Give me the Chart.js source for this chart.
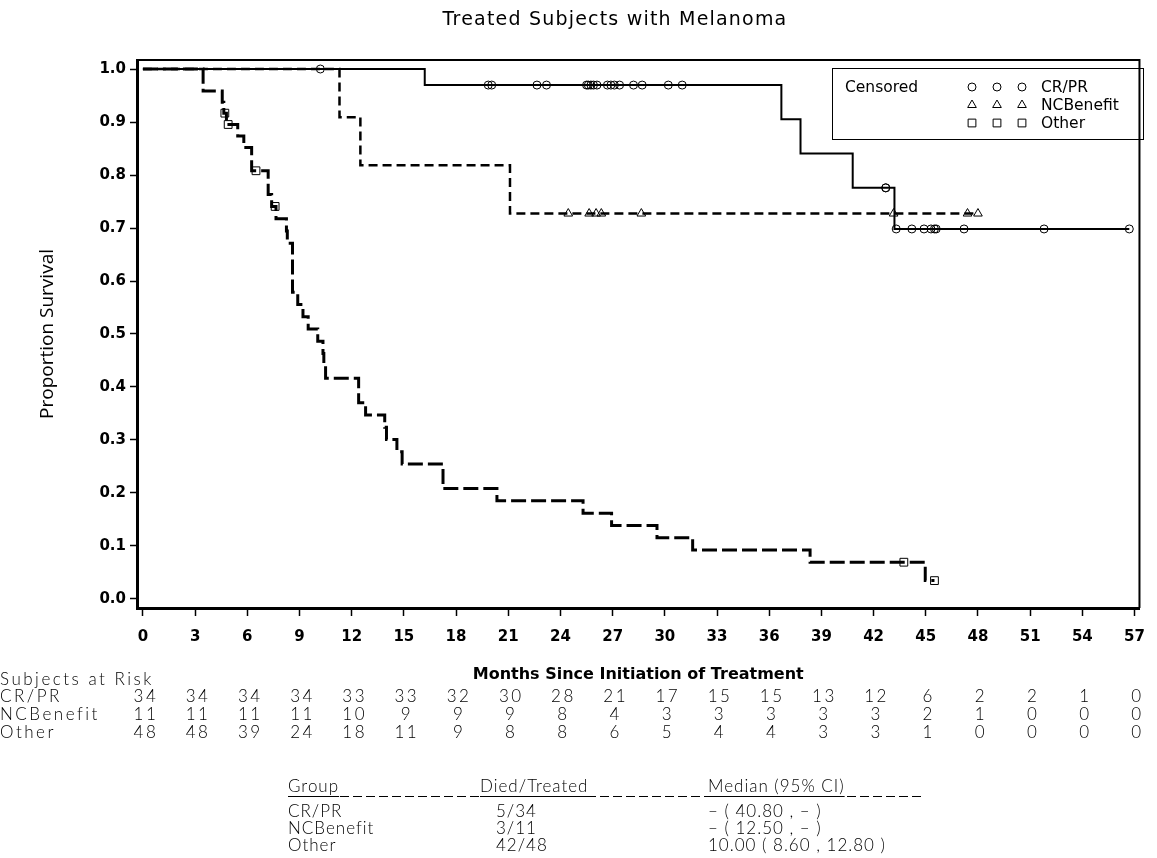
<!DOCTYPE html>
<html>
<head>
<meta charset="utf-8">
<title>Treated Subjects with Melanoma</title>
<script src="https://cdn.jsdelivr.net/npm/chart.js@4/dist/chart.umd.min.js"></script>
<style>
  html, body { margin: 0; padding: 0; background: #fff; }
  #wrap { width: 1157px; height: 858px; }
</style>
</head>
<body>
<div id="wrap"><canvas id="kmChart" width="1157" height="858"></canvas></div>
<script>
// axis ticks
const monthTicks = [0, 3, 6, 9, 12, 15, 18, 21, 24, 27, 30, 33, 36, 39, 42, 45, 48, 51, 54, 57];
const survTicks = [0, 0.1, 0.2, 0.3, 0.4, 0.5, 0.6, 0.7, 0.8, 0.9, 1.0];

// CR/PR: death times, survival after each death, censored times
const crprTimes = [16.2, 36.7, 37.8, 40.8, 43.2];
const crprSurv = [0.9697, 0.9051, 0.8404, 0.7758, 0.6982];
const crprCensor = [10.2, 19.85, 20.05, 22.65, 23.2, 25.5, 25.6, 25.75, 25.9, 26.1, 26.7, 26.9, 27.1, 27.4,
  28.2, 28.7, 30.2, 31.0, 42.7, 42.7, 43.3, 44.2, 44.9, 45.3, 45.5, 45.6, 47.2, 51.8, 56.7];

// NCBenefit
const ncbTimes = [11.3, 12.5, 21.1];
const ncbSurv = [0.9091, 0.8182, 0.7273];
const ncbCensor = [24.45, 25.65, 26.05, 26.35, 28.65, 43.15, 47.4, 48.0];

// Other
const otherTimes = [3.46, 4.56, 4.65, 4.8, 5.45, 5.8, 6.25, 7.2, 7.4, 7.65, 8.25, 8.3, 8.6, 8.9, 9.2, 9.5,
  10.05, 10.35, 10.4, 10.5, 12.4, 12.8, 13.9, 14.0, 14.6, 14.9, 17.25, 20.35, 25.3, 26.94, 29.55, 31.6, 38.35, 44.97];
const otherSurv = [0.9583, 0.9375, 0.9167, 0.8953, 0.8735, 0.8517, 0.8080, 0.7631, 0.7407, 0.7176, 0.6944, 0.6713,
  0.5787, 0.5556, 0.5324, 0.5093, 0.4861, 0.4630, 0.4398, 0.4167, 0.3704, 0.3472, 0.3241, 0.3009, 0.2778, 0.2546,
  0.2083, 0.1852, 0.1620, 0.1389, 0.1157, 0.0926, 0.0694, 0.0347];
const otherCensor = [4.71, 4.9, 6.5, 7.6, 43.74, 45.5];

// subjects at risk at each month tick
const groups = ['CR/PR', 'NCBenefit', 'Other'];
const riskCrpr = [34, 34, 34, 34, 33, 33, 32, 30, 28, 21, 17, 15, 15, 13, 12, 6, 2, 2, 1, 0];
const riskNcb = [11, 11, 11, 11, 10, 9, 9, 9, 8, 4, 3, 3, 3, 3, 3, 2, 1, 0, 0, 0];
const riskOther = [48, 48, 39, 24, 18, 11, 9, 8, 8, 6, 5, 4, 4, 3, 3, 1, 0, 0, 0, 0];

// summary table
const diedTreated = ['5/34', '3/11', '42/48'];
const medianCI = ['\u2013 ( 40.80 , \u2013 )', '\u2013 ( 12.50 , \u2013 )', '10.00 ( 8.60 , 12.80 )'];

const LIGHT = '300 17px Lato, "DejaVu Sans", sans-serif';

function kmPoints(times, surv, censor) {
    const pts = [{ x: 0, y: 1 }];
    times.forEach((t, i) => pts.push({ x: t, y: surv[i] }));
    pts.push({ x: Math.max(...censor, ...times), y: surv[surv.length - 1] });
    return pts;
}

function survAt(times, surv, t) {
    let s = 1;
    times.forEach((tt, i) => { if (tt <= t) s = surv[i]; });
    return s;
}

function censorPoints(times, surv, censor) {
    return censor.map(t => ({ x: t, y: survAt(times, surv, t) }));
}

const extrasPlugin = {
    id: 'kmExtras',
    afterDraw(chart) {
        const ctx = chart.ctx;
        const area = chart.chartArea;
        const xs = chart.scales.x;
        const helpers = Chart.helpers;
        ctx.save();
        ctx.fillStyle = '#000';
        ctx.strokeStyle = '#000';

        // top and right frame
        ctx.lineWidth = 2;
        ctx.beginPath();
        ctx.moveTo(area.left, area.top);
        ctx.lineTo(area.right, area.top);
        ctx.lineTo(area.right, area.bottom);
        ctx.stroke();

        // title
        ctx.font = '19px "DejaVu Sans", sans-serif';
        ctx.letterSpacing = '1.2px';
        ctx.textAlign = 'center';
        ctx.textBaseline = 'middle';
        ctx.fillText('Treated Subjects with Melanoma', 615, 20);
        ctx.letterSpacing = '0px';

        // censored legend box
        ctx.lineWidth = 1;
        ctx.strokeRect(832.5, 68.5, 311, 71);
        ctx.font = '15.5px "DejaVu Sans", sans-serif';
        ctx.textAlign = 'left';
        ctx.fillText('Censored', 845, 88);
        const styles = ['circle', 'triangle', 'rect'];
        const radii = [4, 5, 5.5];
        groups.forEach((g, i) => {
            const y = 87 + i * 18;
            [972, 997, 1022].forEach(x => {
                ctx.fillStyle = 'rgba(0,0,0,0)';
                helpers.drawPoint(ctx, { pointStyle: styles[i], radius: radii[i], rotation: 0, borderWidth: 1 }, x, y);
            });
            ctx.fillStyle = '#000';
            ctx.fillText(g, 1041, y + 1);
        });

        // subjects at risk table
        ctx.font = LIGHT;
        ctx.letterSpacing = '2.5px';
        ctx.textAlign = 'left';
        ctx.fillText('Subjects at Risk', 0, 680);
        const risk = [riskCrpr, riskNcb, riskOther];
        groups.forEach((g, i) => {
            const y = 697 + i * 18;
            ctx.textAlign = 'left';
            ctx.fillText(g, 0, y);
            ctx.textAlign = 'center';
            monthTicks.forEach((m, j) => {
                ctx.fillText(String(risk[i][j]), xs.getPixelForValue(m) + 3, y);
            });
        });

        // summary table
        ctx.letterSpacing = '1px';
        ctx.textAlign = 'left';
        const cols = [288, 480, 708];
        const heads = ['Group', 'Died/Treated', 'Median (95% CI)'];
        heads.forEach((h, i) => ctx.fillText(h, cols[i], 787));
        ctx.lineWidth = 1;
        heads.forEach((h, i) => {
            const w = ctx.measureText(h).width;
            ctx.beginPath();
            ctx.moveTo(cols[i], 796.5);
            ctx.lineTo(cols[i] + w, 796.5);
            ctx.stroke();
        });
        ctx.setLineDash([9, 4]);
        ctx.beginPath();
        ctx.moveTo(288, 796.5);
        ctx.lineTo(925, 796.5);
        ctx.stroke();
        ctx.setLineDash([]);
        groups.forEach((g, i) => {
            const y = 812 + i * 17;
            ctx.fillText(g, 288, y);
            ctx.fillText(diedTreated[i], 496, y);
            ctx.fillText(medianCI[i], 708, y);
        });
        ctx.letterSpacing = '0px';
        ctx.restore();
    }
};

const markerBase = {
    type: 'scatter',
    showLine: false,
    borderColor: '#000',
    backgroundColor: 'rgba(0,0,0,0)',
    pointBorderWidth: 1
};

new Chart(document.getElementById('kmChart'), {
    type: 'line',
    data: {
        datasets: [
            {
                label: 'CR/PR',
                data: kmPoints(crprTimes, crprSurv, crprCensor),
                stepped: true,
                borderColor: '#000',
                borderWidth: 2,
                pointRadius: 0
            },
            {
                label: 'NCBenefit',
                data: kmPoints(ncbTimes, ncbSurv, ncbCensor),
                stepped: true,
                borderColor: '#000',
                borderWidth: 2.5,
                borderDash: [9, 5],
                pointRadius: 0
            },
            {
                label: 'Other',
                data: kmPoints(otherTimes, otherSurv, otherCensor),
                stepped: true,
                borderColor: '#000',
                borderWidth: 3,
                borderDash: [15, 5],
                pointRadius: 0
            },
            Object.assign({}, markerBase, {
                label: 'CR/PR censored',
                data: censorPoints(crprTimes, crprSurv, crprCensor),
                pointStyle: 'circle',
                pointRadius: 4
            }),
            Object.assign({}, markerBase, {
                label: 'NCBenefit censored',
                data: censorPoints(ncbTimes, ncbSurv, ncbCensor),
                pointStyle: 'triangle',
                pointRadius: 5
            }),
            Object.assign({}, markerBase, {
                label: 'Other censored',
                data: censorPoints(otherTimes, otherSurv, otherCensor),
                pointStyle: 'rect',
                pointRadius: 5.5
            })
        ]
    },
    options: {
        responsive: false,
        animation: false,
        layout: { padding: { left: 0, right: 5, top: 60, bottom: 170 } },
        plugins: {
            legend: { display: false },
            tooltip: { enabled: false },
            title: { display: false }
        },
        scales: {
            x: {
                type: 'linear',
                min: -0.34,
                max: 57.284,
                afterBuildTicks: (scale) => { scale.ticks = monthTicks.map(v => ({ value: v })); },
                afterFit: (scale) => { scale.height = 80; },
                border: { display: true, color: '#000', width: 3 },
                grid: { drawOnChartArea: false, drawTicks: true, tickLength: 8, tickColor: '#000', tickWidth: 1.5 },
                ticks: {
                    color: '#000',
                    padding: 12,
                    maxRotation: 0,
                    autoSkip: false,
                    font: { family: '"DejaVu Sans", sans-serif', size: 15, weight: 'bold' },
                    callback: (v) => String(v)
                },
                title: {
                    display: true,
                    text: 'Months Since Initiation of Treatment',
                    color: '#000',
                    font: { family: '"DejaVu Sans", sans-serif', size: 16, weight: 'bold' },
                    padding: { top: 0, bottom: 4 }
                }
            },
            y: {
                type: 'linear',
                min: -0.017,
                max: 1.017,
                afterBuildTicks: (scale) => { scale.ticks = survTicks.map(v => ({ value: v })); },
                afterFit: (scale) => { scale.width = 137; },
                border: { display: true, color: '#000', width: 3 },
                grid: { drawOnChartArea: false, drawTicks: true, tickLength: 7, tickColor: '#000', tickWidth: 1.5 },
                ticks: {
                    color: '#000',
                    padding: 4,
                    font: { family: '"DejaVu Sans", sans-serif', size: 15, weight: 'bold' },
                    callback: (v) => v.toFixed(1)
                },
                title: {
                    display: true,
                    text: 'Proportion Survival',
                    color: '#000',
                    font: { family: '"Open Sans", "Noto Sans", sans-serif', size: 19 },
                    padding: { top: 36, bottom: 0 }
                }
            }
        }
    },
    plugins: [extrasPlugin]
});
</script>
</body>
</html>
